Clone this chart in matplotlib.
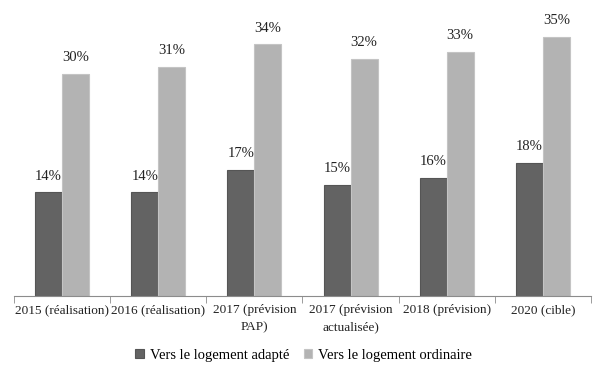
import numpy as np
import matplotlib.pyplot as plt

# categories et valeurs (en %)
categories = ["2015 (réalisation)", "2016 (réalisation)", "2017 (prévision\nPAP)",
              "2017 (prévision\nactualisée)", "2018 (prévision)", "2020 (cible)"]
adapte = [14, 14, 17, 15, 16, 18]
ordinaire = [30, 31, 34, 32, 33, 35]
series_names = ["Vers le logement adapté", "Vers le logement ordinaire"]

plt.rcParams['font.family'] = ['Liberation Serif', 'DejaVu Serif']

fig = plt.figure(figsize=(6.07, 3.79), dpi=100)
ax = fig.add_axes([14/607, 83/379, 577/607, 296/379])

x = np.arange(len(categories))
w = 0.28
b1 = ax.bar(x - w/2, adapte, w, color='#636363', edgecolor='#555555', linewidth=0.8,
            label=series_names[0])
b2 = ax.bar(x + w/2, ordinaire, w, color='#b3b3b3', edgecolor='#c4c4c4', linewidth=0.8,
            label=series_names[1])

for bars, vals in ((b1, adapte), (b2, ordinaire)):
    for r, v in zip(bars, vals):
        ax.annotate(f"{v}%", (r.get_x() + r.get_width()/2, v), xytext=(0, 7),
                    textcoords='offset points', ha='center', va='bottom',
                    fontsize=10.5, color='#222222')

ax.set_xlim(-0.5, len(categories) - 0.5)
ax.set_ylim(0, 40)
ax.set_yticks([])
for s in ('top', 'right', 'left'):
    ax.spines[s].set_visible(False)
ax.spines['bottom'].set_color('#8c8c8c')

ax.set_xticks(x)
ax.set_xticklabels(categories, fontsize=9.5, color='#222222', linespacing=1.5)
ax.tick_params(axis='x', length=0, pad=6)
ax.set_xticks(np.arange(len(categories) + 1) - 0.5, minor=True)
ax.tick_params(axis='x', which='minor', length=5, color='#8c8c8c')

fig.legend(handles=[b1, b2], loc='center', bbox_to_anchor=(0.5, 24/379), ncol=2,
           frameon=False, fontsize=10.5, handlelength=0.6, handleheight=0.6,
           handletextpad=0.4, columnspacing=1.0)

fig.savefig('out.png', dpi=100)
